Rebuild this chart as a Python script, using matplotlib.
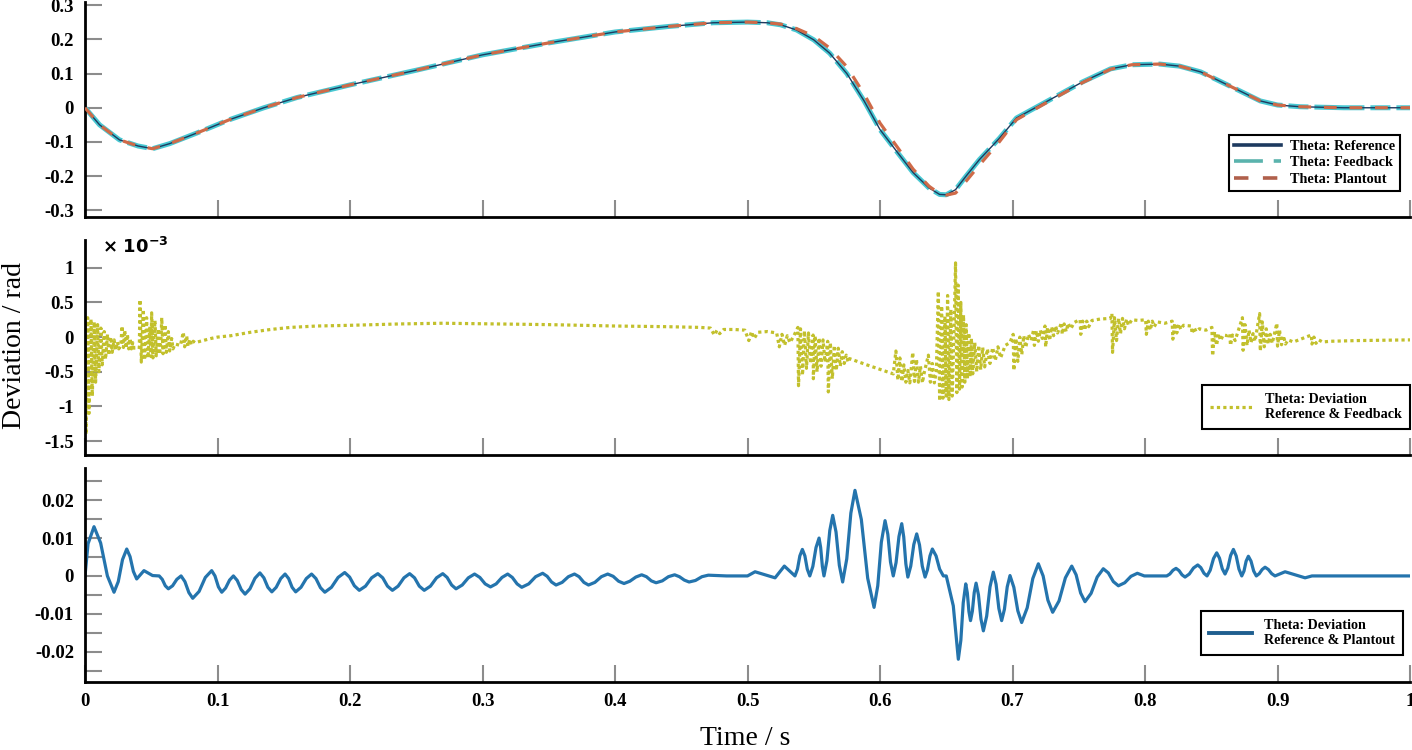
import matplotlib.pyplot as plt

plt.rcParams["font.family"] = "serif"
plt.rcParams["font.serif"] = ["Liberation Serif", "DejaVu Serif"]
plt.rcParams["axes.unicode_minus"] = False
plt.rcParams["mathtext.fontset"] = "dejavusans"

# ---- top panel: theta (rad) ----
t_theta = [0, 0.011, 0.026, 0.04, 0.051, 0.064, 0.087, 0.109, 0.135, 0.16,
           0.2, 0.25, 0.3, 0.35, 0.4, 0.44, 0.474, 0.5, 0.515, 0.525,
           0.537, 0.55, 0.562, 0.575, 0.588, 0.6, 0.613, 0.625, 0.637, 0.645,
           0.65, 0.657, 0.665, 0.675, 0.69, 0.703, 0.728, 0.753, 0.774, 0.79,
           0.811, 0.826, 0.842, 0.867, 0.887, 0.9, 0.917, 0.95, 1.0]
theta_ref = [0, -0.05, -0.094, -0.112, -0.12, -0.105, -0.07, -0.035, 0.0, 0.03,
             0.067, 0.11, 0.155, 0.19, 0.222, 0.238, 0.249, 0.251, 0.249, 0.243,
             0.228, 0.199, 0.16, 0.10, 0.02, -0.064, -0.13, -0.19, -0.235, -0.254,
             -0.255, -0.24, -0.2, -0.152, -0.09, -0.03, 0.023, 0.076, 0.114, 0.126,
             0.128, 0.122, 0.105, 0.058, 0.02, 0.008, 0.003, 0.0, 0.0]
theta_feedback = list(theta_ref)
theta_plantout = [0, -0.05, -0.094, -0.112, -0.12, -0.105, -0.07, -0.035, 0.0, 0.03,
                  0.067, 0.11, 0.155, 0.19, 0.222, 0.238, 0.249, 0.251, 0.249, 0.245,
                  0.232, 0.21, 0.175, 0.12, 0.04, -0.045, -0.115, -0.18, -0.23, -0.252,
                  -0.256, -0.25, -0.215, -0.168, -0.1, -0.035, 0.02, 0.074, 0.113, 0.126,
                  0.128, 0.122, 0.105, 0.058, 0.02, 0.008, 0.003, 0.0, 0.0]

# ---- middle panel: deviation reference & feedback (x 1e-3 rad) ----
t_dev_fb = [
    0.0, 0.0008, 0.002, 0.003, 0.0045, 0.0055, 0.007, 0.008, 0.0095, 0.0105,
    0.012, 0.013, 0.0145, 0.0155, 0.017, 0.018, 0.0195, 0.0205, 0.022, 0.023,
    0.0245, 0.0255, 0.027,
    0.028, 0.029, 0.030, 0.031, 0.032, 0.033, 0.034, 0.035, 0.036, 0.037, 0.039, 0.041,
    0.0415, 0.0425, 0.044, 0.045, 0.0465, 0.0475, 0.049, 0.0498, 0.0503, 0.0513,
    0.0528, 0.0538, 0.0553, 0.0563, 0.0575, 0.0579, 0.0589, 0.0604, 0.0614, 0.0629,
    0.0639, 0.0654, 0.0664, 0.068,
    0.072, 0.0742, 0.0752, 0.0767, 0.0777, 0.0792, 0.0802, 0.0817, 0.083, 0.087,
    0.095, 0.1, 0.11, 0.125, 0.14, 0.155, 0.175, 0.2, 0.238, 0.27, 0.313, 0.35,
    0.4, 0.44, 0.464,
    0.472, 0.475, 0.477, 0.479, 0.482, 0.49, 0.498, 0.501, 0.503, 0.505, 0.508,
    0.515, 0.522, 0.524, 0.526, 0.528, 0.530, 0.532, 0.535,
    0.538, 0.5385, 0.540, 0.5415, 0.543, 0.5445, 0.546, 0.5475, 0.5495, 0.5497,
    0.551, 0.5525, 0.554, 0.5555, 0.557, 0.5585, 0.5605, 0.561, 0.5625, 0.564,
    0.5655, 0.567, 0.5685, 0.570, 0.5715, 0.573, 0.5745, 0.576, 0.577,
    0.59, 0.61,
    0.612, 0.6135, 0.615, 0.6165, 0.618, 0.6195, 0.621, 0.6225, 0.6247, 0.626,
    0.6275, 0.629, 0.6305, 0.632, 0.6335, 0.6365, 0.638, 0.6395, 0.641, 0.6425,
    0.644, 0.645, 0.6465, 0.6475, 0.649, 0.650, 0.651, 0.652, 0.6535, 0.6545,
    0.656, 0.657, 0.658, 0.659, 0.660, 0.661, 0.662, 0.663, 0.664, 0.665,
    0.666, 0.667, 0.668, 0.669, 0.670, 0.6715, 0.673, 0.6745, 0.676, 0.6775,
    0.679, 0.681, 0.683, 0.685, 0.687, 0.689, 0.691,
    0.6945, 0.698, 0.7005, 0.701, 0.7025, 0.704, 0.7055, 0.707, 0.7085, 0.710,
    0.712, 0.714,
    0.716, 0.7165, 0.718, 0.7195, 0.721, 0.7225,
    0.7245, 0.725, 0.7265, 0.728, 0.7295, 0.731, 0.7325, 0.734,
    0.737, 0.7375, 0.739, 0.7405, 0.742, 0.744, 0.7465, 0.7495, 0.751, 0.7515,
    0.753, 0.7545, 0.756, 0.7575, 0.760, 0.766,
    0.774, 0.775, 0.7755, 0.777, 0.7785, 0.780, 0.7815, 0.783, 0.7845, 0.786,
    0.7875, 0.790, 0.795,
    0.8005, 0.801, 0.8025, 0.804, 0.8055, 0.807, 0.809, 0.815,
    0.8205, 0.821, 0.8225, 0.824, 0.8255, 0.827, 0.829, 0.835, 0.8355, 0.837,
    0.8385, 0.841, 0.846,
    0.8505, 0.851, 0.8525, 0.854, 0.8555, 0.857, 0.859, 0.8625, 0.864, 0.8645,
    0.866, 0.868,
    0.8735, 0.874, 0.8755, 0.877, 0.8785, 0.880, 0.8815, 0.883,
    0.8865, 0.887, 0.8885, 0.890, 0.8915, 0.893, 0.8945, 0.896,
    0.8995, 0.900, 0.9015, 0.903, 0.9045, 0.906, 0.908, 0.912,
    0.9255, 0.926, 0.9275, 0.929, 0.931, 0.934, 0.94, 0.96, 0.98, 1.0,
]
dev_fb = [
    0.25, -1.40, 0.28, -1.10, 0.26, -0.85, 0.22, -0.65, 0.18, -0.50,
    0.13, -0.40, 0.08, -0.32, 0.04, -0.26, 0.0, -0.22, -0.04, -0.19,
    -0.07, -0.17, -0.12,
    0.16, -0.15, 0.10, -0.16, 0.04, -0.17, -0.02, -0.17, -0.08, -0.16, -0.14, -0.15,
    0.54, -0.36, 0.40, -0.33, 0.28, -0.30, 0.15, -0.28, 0.35, -0.30,
    0.24, -0.27, 0.12, -0.25, 0.02, 0.28, -0.24, 0.18, -0.22, 0.08,
    -0.20, -0.02, -0.17, -0.10,
    -0.12, 0.07, -0.14, 0.02, -0.13, -0.03, -0.11, -0.06, -0.08, -0.06,
    -0.02, 0.0, 0.02, 0.07, 0.11, 0.14, 0.16, 0.17, 0.19, 0.20, 0.19, 0.18,
    0.16, 0.15, 0.14,
    0.13, 0.03, 0.10, 0.05, 0.11, 0.11, 0.10, -0.05, 0.08, -0.02, 0.07,
    0.08, 0.06, -0.14, 0.04, -0.12, 0.02, -0.08, 0.02,
    0.14, -0.70, 0.12, -0.55, 0.09, -0.45, 0.06, -0.38, 0.03, -0.60,
    0.02, -0.50, -0.01, -0.42, -0.04, -0.36, -0.06, -0.79, -0.08, -0.60,
    -0.12, -0.48, -0.16, -0.42, -0.21, -0.38, -0.26, -0.36, -0.31,
    -0.40, -0.53,
    -0.20, -0.62, -0.30, -0.64, -0.40, -0.65, -0.48, -0.66, -0.22, -0.64,
    -0.32, -0.65, -0.42, -0.66, -0.50, -0.26, -0.65, -0.38, -0.66, -0.50,
    0.66, -0.92, 0.45, -0.88, 0.30, -0.85, 0.60, -0.90, 0.40, -0.85,
    0.20, 1.07, -0.80, 0.75, -0.75, 0.50, -0.72, 0.32, -0.65, 0.18,
    -0.60, 0.06, -0.57, -0.02, -0.53, -0.08, -0.50, -0.12, -0.47, -0.15,
    -0.43, -0.17, -0.38, -0.15, -0.34, -0.14, -0.30,
    -0.12, -0.08, 0.04, -0.48, -0.02, -0.35, 0.00, -0.25, 0.02, -0.15,
    0.04, -0.05,
    0.11, -0.12, 0.09, -0.06, 0.10, -0.02,
    0.16, -0.14, 0.14, -0.05, 0.15, 0.02, 0.16, 0.06,
    0.21, 0.04, 0.19, 0.08, 0.20, 0.12, 0.21, 0.24, 0.25, 0.04,
    0.23, 0.10, 0.23, 0.15, 0.24, 0.26,
    0.27, 0.34, -0.22, 0.28, -0.05, 0.27, 0.05, 0.27, 0.12, 0.26,
    0.17, 0.25, 0.24,
    0.25, 0.04, 0.23, 0.10, 0.23, 0.15, 0.22, 0.20,
    0.23, -0.03, 0.20, 0.06, 0.19, 0.11, 0.17, 0.16, 0.05, 0.14,
    0.08, 0.12, 0.10,
    0.14, -0.27, 0.08, -0.12, 0.05, -0.05, 0.03, 0.02, 0.05, -0.12,
    0.03, -0.05,
    0.28, -0.19, 0.18, -0.12, 0.10, -0.08, 0.05, -0.06,
    0.34, -0.20, 0.22, -0.14, 0.12, -0.10, 0.04, -0.09,
    0.20, -0.13, 0.10, -0.11, 0.02, -0.10, -0.04, -0.07,
    0.03, -0.10, 0.00, -0.09, -0.04, -0.07, -0.06, -0.05, -0.045, -0.04,
]

# ---- bottom panel: deviation reference & plantout (rad) ----
t_dev_po = [
    0.0, 0.0023, 0.0068, 0.0118, 0.0169, 0.0219, 0.0251, 0.0283, 0.0315, 0.034,
    0.0365, 0.039, 0.0445, 0.051, 0.056, 0.0583, 0.0606, 0.0629, 0.0661, 0.0693,
    0.0725, 0.0754, 0.0784, 0.0813, 0.0861, 0.0908, 0.0956, 0.0981, 0.1007, 0.1032,
    0.1061, 0.1091, 0.112, 0.1149, 0.1179, 0.1208, 0.1245, 0.1283, 0.132, 0.135,
    0.138, 0.141, 0.1443, 0.1477, 0.151, 0.1537, 0.1563, 0.159, 0.163, 0.167,
    0.171, 0.1743, 0.1777, 0.181, 0.186, 0.191, 0.196, 0.1997, 0.2033, 0.207,
    0.2117, 0.2163, 0.221, 0.2247, 0.2283, 0.232, 0.2363, 0.2407, 0.245, 0.2487,
    0.2523, 0.256, 0.2607, 0.2653, 0.27, 0.2733, 0.2767, 0.28, 0.2847, 0.2893,
    0.294, 0.298, 0.302, 0.306, 0.3103, 0.3147, 0.319, 0.3225, 0.3261, 0.3296,
    0.3349, 0.3401, 0.3454, 0.3488, 0.3521, 0.3555, 0.3601, 0.3648, 0.3694, 0.3729,
    0.3765, 0.38, 0.3848, 0.3897, 0.3945, 0.3986, 0.4027, 0.4068, 0.4112, 0.4157,
    0.4201, 0.4237, 0.4274, 0.431, 0.4357, 0.4403, 0.445, 0.4486, 0.4523, 0.4559,
    0.4607, 0.4656, 0.4704, 0.4842, 0.5, 0.5057, 0.5208, 0.5278, 0.5358, 0.5377,
    0.5395, 0.5414, 0.5433, 0.5451, 0.547, 0.5493, 0.5517, 0.554, 0.5552, 0.5565,
    0.5577, 0.5599, 0.5621, 0.5643, 0.5668, 0.5693, 0.5718, 0.5749, 0.578, 0.5811,
    0.5859, 0.5907, 0.5955, 0.5983, 0.601, 0.6038, 0.6059, 0.6079, 0.61, 0.6121,
    0.6143, 0.6164, 0.6179, 0.6195, 0.621, 0.6232, 0.6255, 0.6277, 0.6298, 0.6319,
    0.634, 0.6358, 0.6377, 0.6395, 0.6423, 0.645, 0.6478, 0.65, 0.6553, 0.6575,
    0.6591, 0.661, 0.6628, 0.6647, 0.6659, 0.6671, 0.6683, 0.6697, 0.6711, 0.6725,
    0.6743, 0.6762, 0.678, 0.6805, 0.683, 0.6855, 0.6876, 0.6897, 0.6918, 0.6939,
    0.696, 0.6981, 0.701, 0.704, 0.7069, 0.7111, 0.7153, 0.7195, 0.7231, 0.7267,
    0.7303, 0.7351, 0.7399, 0.7447, 0.748, 0.7514, 0.7547, 0.7593, 0.7639, 0.7685,
    0.7723, 0.7761, 0.7799, 0.7847, 0.7894, 0.7942, 0.7995, 0.8164, 0.8187, 0.8211,
    0.8234, 0.8257, 0.8279, 0.8302, 0.8334, 0.8366, 0.8398, 0.8421, 0.8445, 0.8468,
    0.8492, 0.8517, 0.8541, 0.8562, 0.8583, 0.8604, 0.8625, 0.8646, 0.8667, 0.8688,
    0.8709, 0.873, 0.8747, 0.8763, 0.878, 0.88, 0.882, 0.884, 0.8862, 0.8884,
    0.8906, 0.8931, 0.8956, 0.8981, 0.9057, 0.9208, 0.926, 1.0,
]
dev_po = [
    0.0, 0.0085, 0.013, 0.0087, 0.0, -0.0043, -0.0015, 0.0043, 0.0071, 0.0051,
    0.0012, -0.0008, 0.0014, 0.0001, 0.0, -0.0009, -0.0026, -0.0034, -0.0026, -0.0009,
    0.0, -0.0015, -0.0044, -0.0059, -0.0041, -0.0004, 0.0014, 0.0, -0.0029, -0.0043,
    -0.0032, -0.0011, 0.0, -0.0012, -0.0036, -0.0048, -0.0034, -0.0006, 0.0008, -0.0005,
    -0.0030, -0.0042, -0.0030, -0.0007, 0.0005, -0.0007, -0.0030, -0.0042, -0.0030, -0.0007,
    0.0005, -0.0007, -0.0031, -0.0043, -0.0030, -0.0004, 0.0009, -0.0003, -0.0026, -0.0038,
    -0.0027, -0.0005, 0.0006, -0.0005, -0.0027, -0.0038, -0.0027, -0.0005, 0.0006, -0.0005,
    -0.0027, -0.0038, -0.0027, -0.0005, 0.0006, -0.0004, -0.0024, -0.0034, -0.0024, -0.0005,
    0.0005, -0.0004, -0.0021, -0.0029, -0.0021, -0.0004, 0.0005, -0.0004, -0.0021, -0.003,
    -0.0021, -0.0002, 0.0007, -0.0001, -0.0016, -0.0024, -0.0017, -0.0002, 0.0005, -0.0002,
    -0.0017, -0.0024, -0.0017, -0.0002, 0.0005, -0.0001, -0.0014, -0.002, -0.0014, -0.0003,
    0.0003, -0.0002, -0.0013, -0.0018, -0.0013, -0.0002, 0.0003, -0.0002, -0.0011, -0.0016,
    -0.0012, -0.0002, 0.0002, 0.0, 0.0, 0.0011, -0.0005, 0.0026, 0.0, 0.0018,
    0.0053, 0.007, 0.0053, 0.0018, 0.0, 0.0025, 0.0075, 0.01, 0.0075, 0.0025,
    0.0, 0.004, 0.012, 0.016, 0.0116, 0.0028, -0.0016, 0.0045, 0.0166, 0.0226,
    0.0149, -0.0006, -0.0083, -0.0026, 0.0089, 0.0146, 0.011, 0.0037, 0.0, 0.0035,
    0.0104, 0.0138, 0.0103, 0.0032, -0.0003, 0.0026, 0.0083, 0.0111, 0.0082, 0.0026,
    -0.0003, 0.0016, 0.0053, 0.0071, 0.0053, 0.0018, 0.0, 0.0, -0.0079, -0.016,
    -0.022, -0.017, -0.0071, -0.0021, -0.0045, -0.0094, -0.0118, -0.0093, -0.0044, -0.0019,
    -0.005, -0.0114, -0.0145, -0.0106, -0.0029, 0.001, -0.0022, -0.0086, -0.0118, -0.0088,
    -0.0029, 0.0001, -0.003, -0.0092, -0.0123, -0.0084, -0.0007, 0.0032, 0.0, -0.0064,
    -0.0096, -0.0066, -0.0005, 0.0026, 0.0003, -0.0045, -0.0068, -0.0046, -0.0003, 0.0019,
    0.0008, -0.0015, -0.0026, -0.0018, -0.0001, 0.0007, 0.0, 0.0, 0.0005, 0.0015,
    0.002, 0.0014, 0.0003, -0.0003, 0.0005, 0.0021, 0.0029, 0.0022, 0.0007, 0.0,
    0.0015, 0.0046, 0.0061, 0.0047, 0.0019, 0.0005, 0.0021, 0.0054, 0.007, 0.0053,
    0.0018, 0.0, 0.0013, 0.0039, 0.0052, 0.0039, 0.0013, 0.0, 0.0006, 0.0017,
    0.0023, 0.0017, 0.0006, 0.0, 0.0011, -0.0005, 0.0, 0.0,
]

x_ticks = [0, 0.1, 0.2, 0.3, 0.4, 0.5, 0.6, 0.7, 0.8, 0.9, 1.0]
x_tick_labels = ["0", "0.1", "0.2", "0.3", "0.4", "0.5", "0.6", "0.7", "0.8", "0.9", "1"]


def style_axis(ax, yticks, ylabels, ylim, show_x):
    ax.set_xlim(0, 1)
    ax.set_ylim(*ylim)
    ax.spines["top"].set_visible(False)
    ax.spines["right"].set_visible(False)
    for side in ("left", "bottom"):
        ax.spines[side].set_linewidth(2)
        ax.spines[side].set_color("black")
    ax.set_xticks(x_ticks)
    ax.set_xticklabels(x_tick_labels, fontweight="bold")
    ax.set_yticks(yticks)
    ax.set_yticklabels(ylabels, fontweight="bold")
    ax.tick_params(direction="in", length=12, width=1.5, color="#8c8c8c",
                   labelsize=13.5, labelcolor="black")
    ax.tick_params(axis="y", pad=8)
    ax.tick_params(axis="x", pad=8, labelbottom=show_x)


def add_legend(ax, anchor, fontsize=10, **kw):
    leg = ax.legend(loc="lower right", bbox_to_anchor=anchor, borderaxespad=0,
                    frameon=True, fancybox=False, framealpha=1, edgecolor="black",
                    prop={"family": "serif", "weight": "bold", "size": fontsize}, **kw)
    leg.get_frame().set_linewidth(1.5)
    for txt in leg.get_texts():
        txt.set_linespacing(1.25)
    return leg


fig = plt.figure(figsize=(14.12, 7.5), dpi=100)
ax1 = fig.add_axes([0.0602, 0.7107, 0.9384, 0.2867])
ax2 = fig.add_axes([0.0602, 0.3933, 0.9384, 0.2867])
ax3 = fig.add_axes([0.0602, 0.0907, 0.9384, 0.2853])

# top
ax1.plot(t_theta, theta_feedback, color="#48c8d2", lw=3.6, dashes=(10, 1.2, 4, 1.2),
         label="Theta: Feedback", zorder=2)
ax1.plot(t_theta, theta_ref, color="#1d3a5f", lw=1.0, label="Theta: Reference", zorder=3)
ax1.plot(t_theta, theta_plantout, color="#cf6a48", lw=2.3, dashes=(4, 4),
         label="Theta: Plantout", zorder=4)
style_axis(ax1, [0.3, 0.2, 0.1, 0, -0.1, -0.2, -0.3],
           ["0.3", "0.2", "0.1", "0", "-0.1", "-0.2", "-0.3"], (-0.32, 0.31), False)
h, l = ax1.get_legend_handles_labels()
leg1 = add_legend(ax1, (0.9925, 0.121), fontsize=10.3,
                  handles=[h[1], h[0], h[2]], labels=[l[1], l[0], l[2]],
                  handlelength=3.3, labelspacing=0.25, borderpad=0.35, handletextpad=0.6)
leg_lines = leg1.get_lines()
leg_lines[0].set_linewidth(2.6)
leg_lines[1].set_linewidth(2.6)
leg_lines[1].set_dashes((8, 3, 3, 3))
leg_lines[1].set_color("#5ab3ad")
leg_lines[2].set_linewidth(2.6)
leg_lines[2].set_dashes((4, 4))
leg_lines[2].set_color("#b0604b")

# middle
ax2.plot(t_dev_fb, dev_fb, color="#c2c02c", lw=2.3, linestyle=(0, (1, 1.0)),
         label="Theta: Deviation\nReference & Feedback")
style_axis(ax2, [1, 0.5, 0, -0.5, -1, -1.5],
           ["1", "0.5", "0", "-0.5", "-1", "-1.5"], (-1.7, 1.4), False)
ax2.text(0.013, 0.97, r"$\mathbf{\times\ 10^{-3}}$", transform=ax2.transAxes,
         fontsize=13, va="center", ha="left")
add_legend(ax2, (1.0, 0.121), fontsize=10.2, handlelength=3.0, borderpad=0.55,
           handletextpad=0.9)

# bottom
ax3.plot(t_dev_po, dev_po, color="#2474ad", lw=2.3, solid_joinstyle="round",
         label="Theta: Deviation\nReference & Plantout")
style_axis(ax3, [0.025, 0.02, 0.015, 0.01, 0.005, 0, -0.005, -0.01, -0.015, -0.02, -0.025],
           ["", "0.02", "", "0.01", "", "0", "", "-0.01", "", "-0.02", ""],
           (-0.028, 0.0285), True)
leg3 = add_legend(ax3, (0.9947, 0.126), fontsize=10.2, handlelength=3.0, borderpad=0.55,
                  handletextpad=0.9)
leg3.get_lines()[0].set_color("#1f5f8f")
leg3.get_lines()[0].set_linewidth(2.8)

fig.text(0.0105, 0.539, "Deviation / rad", rotation=90, fontsize=20,
         ha="center", va="center")
fig.text(0.528, 0.015, "Time / s", fontsize=20, ha="center", va="center")

fig.savefig("out.png", dpi=100)
